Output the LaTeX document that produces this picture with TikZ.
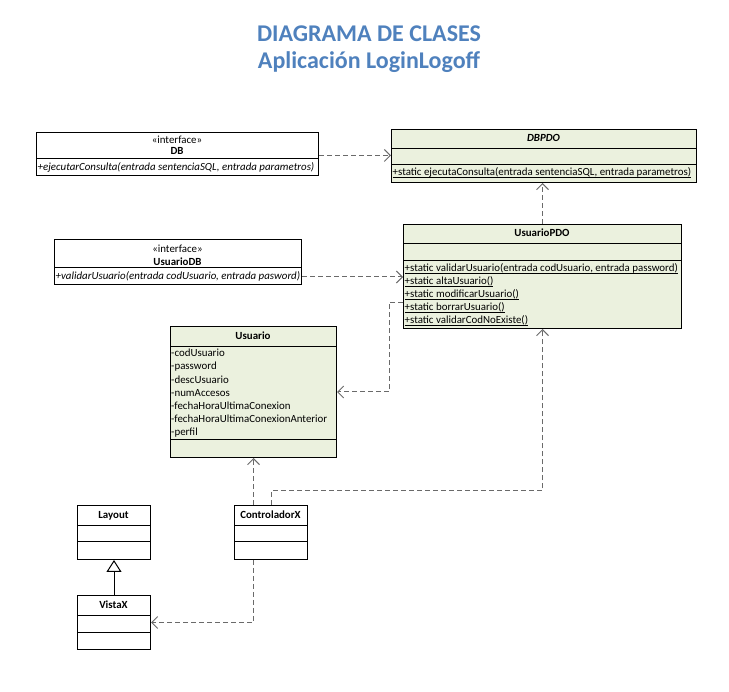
\documentclass[tikz,border=0pt]{standalone}
\usepackage{fontspec}
\setmainfont{Carlito}
\usetikzlibrary{arrows.meta,calc}
\definecolor{umlgreen}{HTML}{EBF1DE}
\definecolor{titleblue}{HTML}{4F81BD}
\definecolor{depgray}{HTML}{6A6A6A}
% underline used for static members
\newcommand\staticline[1]{\setbox0\hbox{#1}\rlap{\rule[-1.6pt]{\wd0}{0.6pt}}\box0}

\begin{document}
\begin{tikzpicture}[x=1pt,y=-1pt,
  box/.style={draw=black, line width=1pt, inner sep=0pt, anchor=north west},
  fillbox/.style={box, fill=umlgreen},
  sep/.style={line width=1pt},
  lbl/.style={inner sep=0pt, text height=8pt, text depth=2.5pt, font=\fontsize{10.9}{13}\selectfont},
  ltext/.style={lbl, anchor=west},
  ctext/.style={lbl, anchor=center},
  bold/.style={font=\fontsize{10.9}{13}\selectfont\bfseries},
  ital/.style={font=\fontsize{10.9}{13}\selectfont\itshape},
  dep/.style={draw=depgray, line width=1pt, dash pattern=on 5pt off 3pt,
    -{Straight Barb[length=6pt,width=12pt]}},
  gen/.style={line width=1pt, -{Triangle[open,length=12pt,width=15pt]}},
  heading/.style={inner sep=0pt, anchor=base, text=titleblue,
    font=\fontsize{24}{28}\selectfont\bfseries},
]
\useasboundingbox (0,0) rectangle (729,692);

% Title
\node[heading] (title1) at (369,41.5) {DIAGRAMA DE CLASES};
\node[heading] (title2) at (369,68.5) {Aplicación LoginLogoff};

% Interface DB
\node[box, fill=white, minimum width=282pt, minimum height=43pt] (db) at (36,132) {};
\draw[sep] (db.west |- 0,159) -- (db.east |- 0,159);
\node[ctext] (dbst) at (177,141) {«interface»};
\node[ctext, bold] (dbname) at (177,151.5) {DB};
\node[ltext, ital] (dbm) at (37.5,168) {+ejecutarConsulta(entrada sentenciaSQL, entrada parametros)};

% Class DBPDO
\node[fillbox, minimum width=305pt, minimum height=53pt] (dbpdo) at (391,129) {};
\draw[sep] (dbpdo.west |- 0,149) -- (dbpdo.east |- 0,149);
\draw[sep] (dbpdo.west |- 0,165) -- (dbpdo.east |- 0,165);
\node[ctext, font=\fontsize{10.9}{13}\selectfont\bfseries\itshape] (dbpdoname) at (543.5,139) {DBPDO};
\node[ltext] (dbpdom) at (392.5,173) {\staticline{+static ejecutaConsulta(entrada sentenciaSQL, entrada parametros)}};

% Interface UsuarioDB
\node[box, fill=white, minimum width=247pt, minimum height=45pt] (udb) at (54,239) {};
\draw[sep] (udb.west |- 0,268) -- (udb.east |- 0,268);
\node[ctext] (udbst) at (177.5,250) {«interface»};
\node[ctext, bold] (udbname) at (177.5,263) {UsuarioDB};
\node[ltext, ital] (udbm) at (55.5,277) {+validarUsuario(entrada codUsuario, entrada pasword)};

% Class UsuarioPDO
\node[fillbox, minimum width=278pt, minimum height=104pt] (updo) at (403,224) {};
\draw[sep] (updo.west |- 0,244) -- (updo.east |- 0,244);
\draw[sep] (updo.west |- 0,261) -- (updo.east |- 0,261);
\node[ctext, bold] (updoname) at (542,234) {UsuarioPDO};
\node[ltext] (updom1) at (404.5,269) {\staticline{+static validarUsuario(entrada codUsuario, entrada password)}};
\node[ltext] (updom2) at (404.5,282) {\staticline{+static altaUsuario()}};
\node[ltext] (updom3) at (404.5,295) {\staticline{+static modificarUsuario()}};
\node[ltext] (updom4) at (404.5,308) {\staticline{+static borrarUsuario()}};
\node[ltext] (updom5) at (404.5,321) {\staticline{+static validarCodNoExiste()}};

% Class Usuario
\node[fillbox, minimum width=166pt, minimum height=131pt] (usuario) at (170,326) {};
\draw[sep] (usuario.west |- 0,347) -- (usuario.east |- 0,347);
\draw[sep] (usuario.west |- 0,440) -- (usuario.east |- 0,440);
\node[ctext, bold] (usuarioname) at (253,337) {Usuario};
\node[ltext] (ua1) at (171,354) {-codUsuario};
\node[ltext] (ua2) at (171,367.2) {-password};
\node[ltext] (ua3) at (171,380.4) {-descUsuario};
\node[ltext] (ua4) at (171,393.6) {-numAccesos};
\node[ltext] (ua5) at (171,406.8) {-fechaHoraUltimaConexion};
\node[ltext] (ua6) at (171,420) {-fechaHoraUltimaConexionAnterior};
\node[ltext] (ua7) at (171,433.2) {-perfil};

% Class Layout
\node[box, fill=white, minimum width=73pt, minimum height=54pt] (layout) at (77,505) {};
\draw[sep] (layout.west |- 0,526) -- (layout.east |- 0,526);
\draw[sep] (layout.west |- 0,542) -- (layout.east |- 0,542);
\node[ctext, bold] (layoutname) at (113.5,516) {Layout};

% Class ControladorX
\node[box, fill=white, minimum width=73pt, minimum height=54pt] (ctrl) at (234,505) {};
\draw[sep] (ctrl.west |- 0,526) -- (ctrl.east |- 0,526);
\draw[sep] (ctrl.west |- 0,542) -- (ctrl.east |- 0,542);
\node[ctext, bold] (ctrlname) at (270.5,516) {ControladorX};

% Class VistaX
\node[box, fill=white, minimum width=73pt, minimum height=54pt] (vistax) at (77,595) {};
\draw[sep] (vistax.west |- 0,616) -- (vistax.east |- 0,616);
\draw[sep] (vistax.west |- 0,632) -- (vistax.east |- 0,632);
\node[ctext, bold] (vistaxname) at (113.5,606) {VistaX};

% Dependencies
\draw[dep] ([yshift=-1.5pt]db.east) -- ([yshift=-1.5pt]db.east -| dbpdo.west);
\draw[dep] (updo.north) -- (updo.north |- dbpdo.south);
\draw[dep] (udbm -| udb.east) -- (udbm -| updo.west);
\draw[dep] ($(updo.west)+(0,26)$) -- ++(-14,0) |- (usuario.east);
\draw[dep] (usuario.south |- ctrl.north) -- (usuario.south);
\draw[dep] (ctrl.north) -- ++(0,-14) -| (updo.south);
\draw[dep] (ctrl.south -| usuario.south) |- (vistax.east);

% Generalization
\draw[gen] (vistax.north) -- (layout.south);
\end{tikzpicture}
\end{document}
